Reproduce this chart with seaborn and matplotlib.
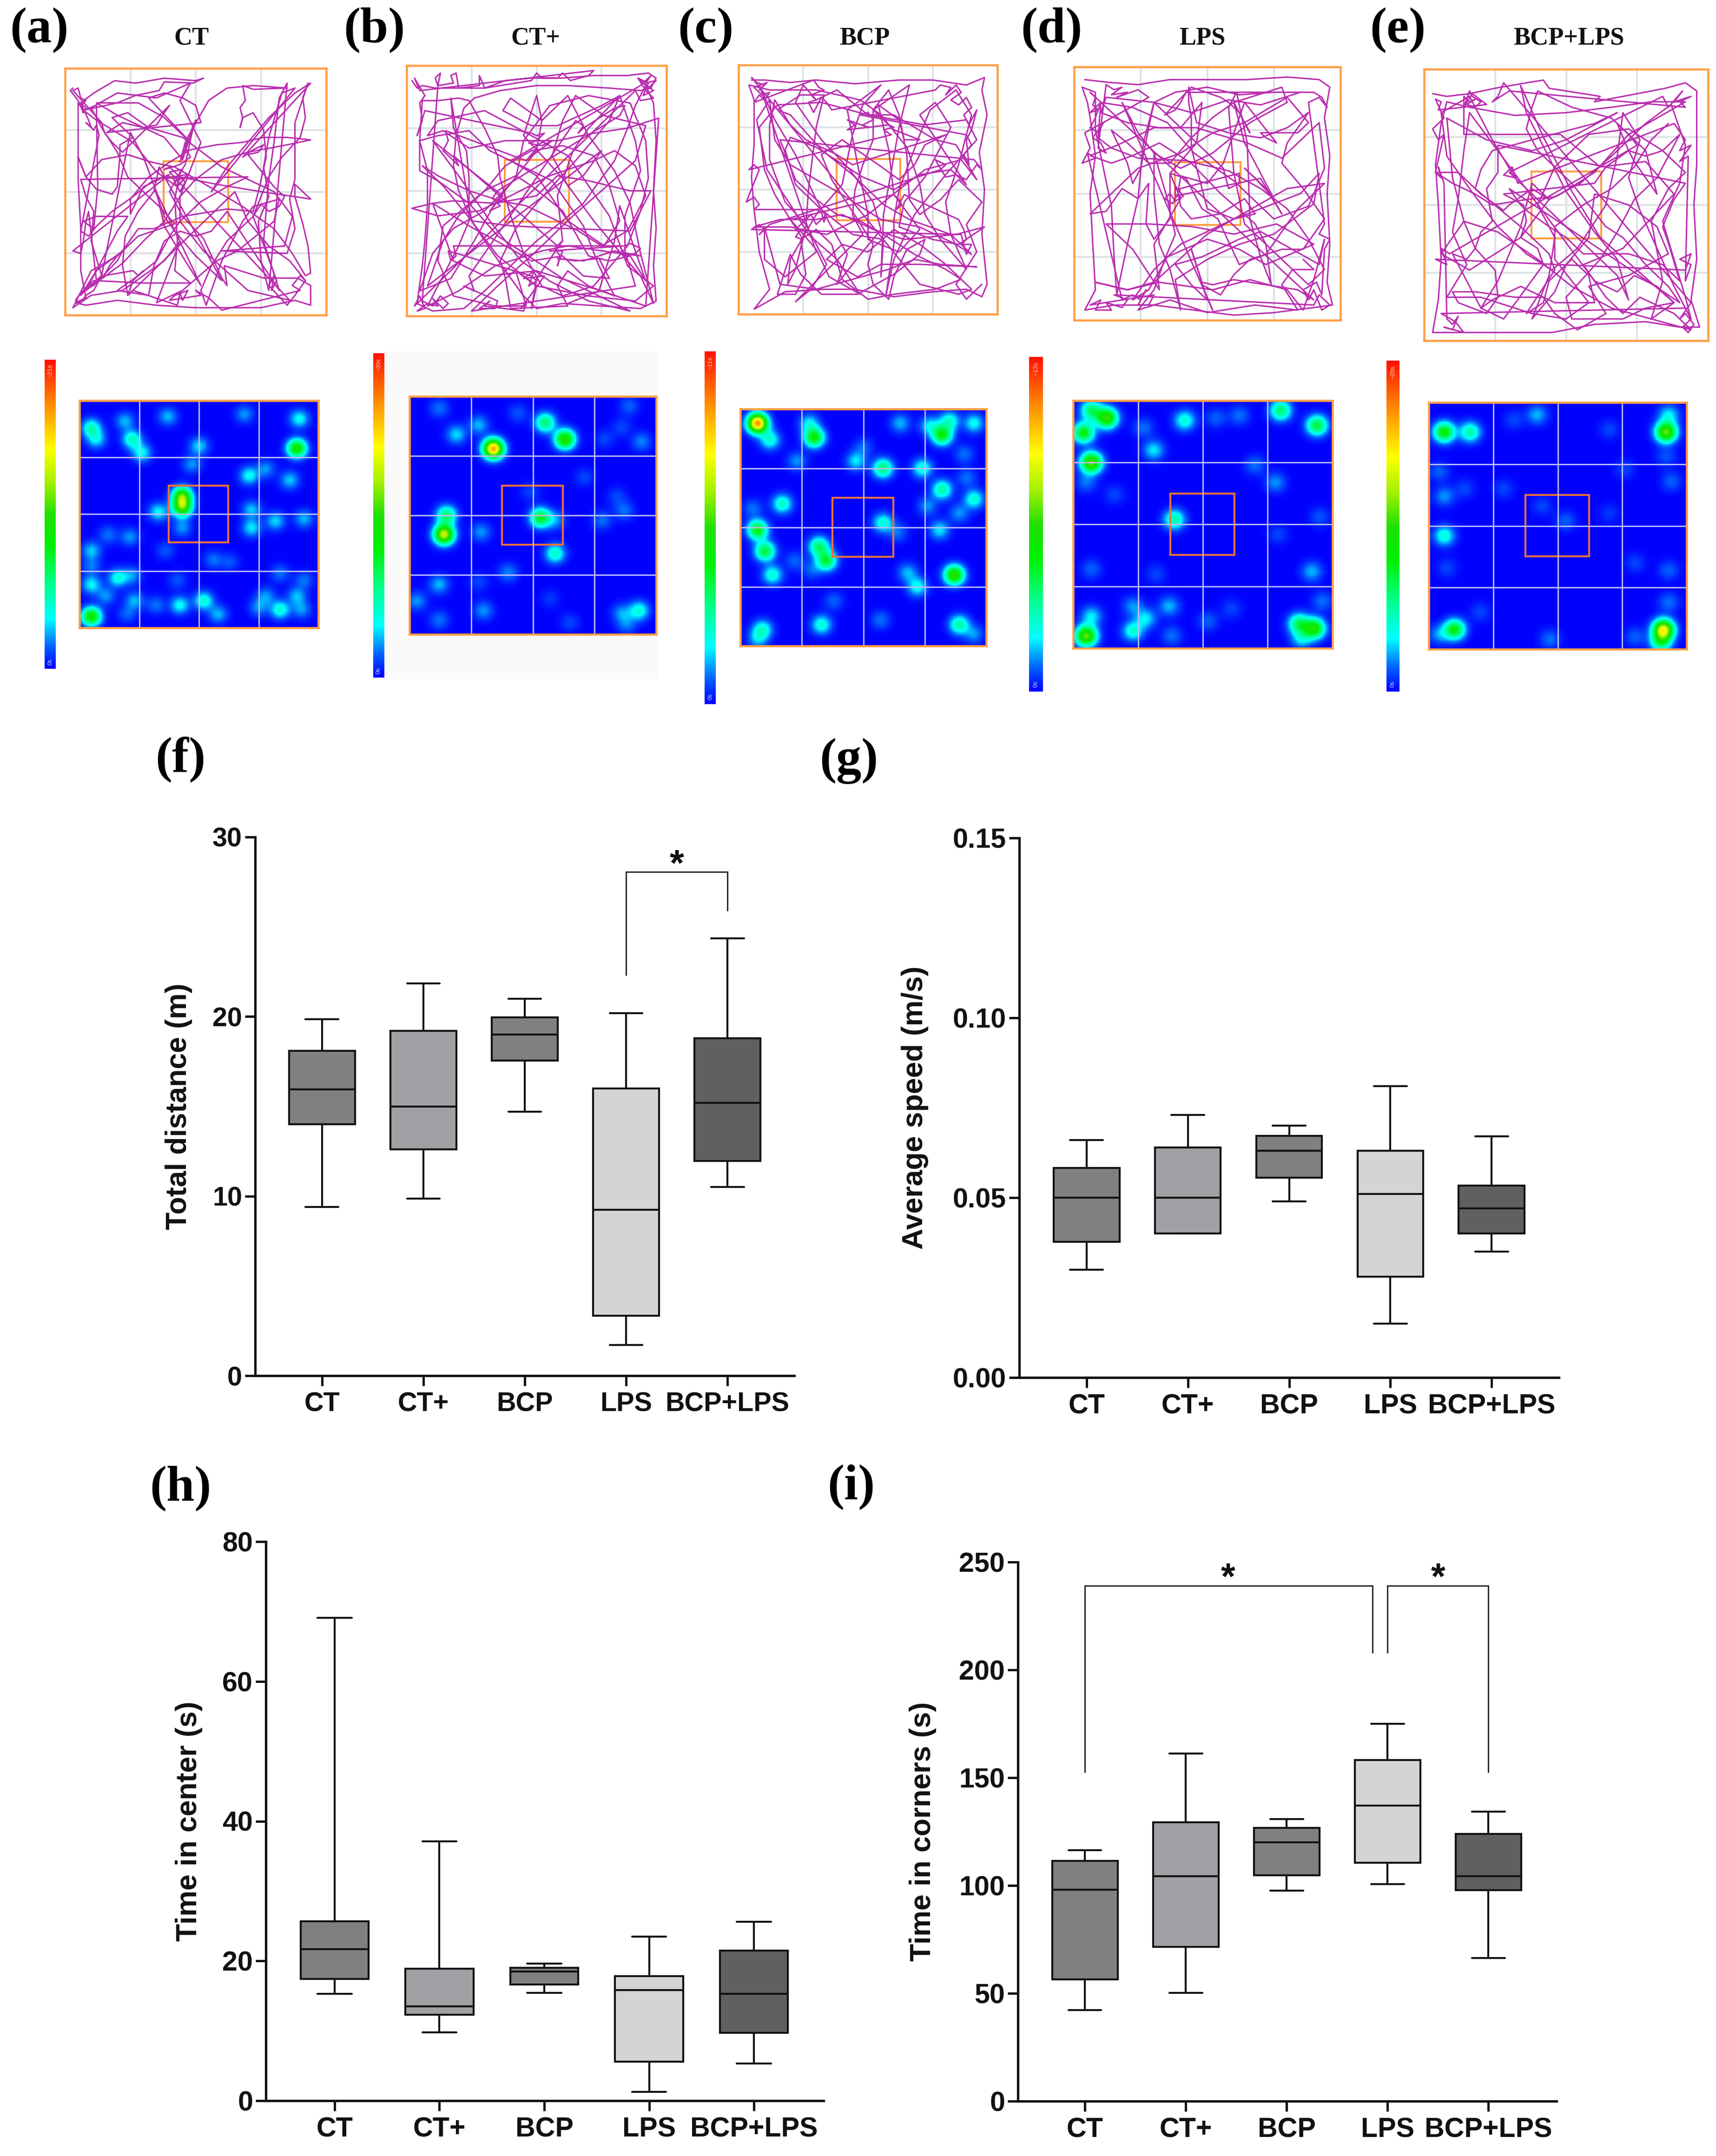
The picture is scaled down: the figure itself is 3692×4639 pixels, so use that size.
import numpy as np
import pandas as pd
import seaborn as sns
import matplotlib.pyplot as plt
from matplotlib.colors import LinearSegmentedColormap
from matplotlib.patches import Rectangle

W, H = 3692, 4639

groups = ['CT', 'CT+', 'BCP', 'LPS', 'BCP+LPS']
box_colors = ['#808080', '#a0a0a4', '#808080', '#d4d4d4', '#606060']

# each group: low whisker, q1, median, q3, high whisker
total_distance = [[9.4, 14.0, 15.95, 18.1, 19.85], [9.85, 12.6, 15.0, 19.2, 21.85], [14.7, 17.55, 19.0, 19.95, 21.0],
                  [1.7, 3.35, 9.25, 16.0, 20.2], [10.5, 11.95, 15.2, 18.8, 24.35]]
average_speed = [[0.030, 0.0377, 0.050, 0.0583, 0.066], [0.040, 0.040, 0.050, 0.064, 0.073], [0.049, 0.0556, 0.063, 0.0672, 0.070],
                 [0.015, 0.028, 0.051, 0.063, 0.081], [0.035, 0.040, 0.047, 0.0534, 0.067]]
time_center = [[15.3, 17.4, 21.7, 25.7, 69.1], [9.8, 12.3, 13.5, 18.9, 37.1], [15.4, 16.6, 18.5, 19.05, 19.6],
               [1.25, 5.6, 15.85, 17.8, 23.5], [5.35, 9.7, 15.3, 21.5, 25.6]]
time_corners = [[42.3, 56.5, 98, 111.5, 116.3], [50.3, 71.5, 104.3, 129.4, 161.2], [97.7, 104.7, 120, 126.7, 130.9],
                [100.7, 110.6, 137, 158.2, 174.9], [66.4, 97.9, 104.3, 123.9, 134.3]]

distance_bracket_x, distance_bracket_y = [3, 3, 4, 4], [22.3, 28.05, 28.05, 25.9]
corners_bracket1_x, corners_bracket1_y = [0, 0, 2.85, 2.85], [152.5, 239, 239, 208]
corners_bracket2_x, corners_bracket2_y = [3, 3, 4, 4], [208, 239, 239, 152.5]

# animal tracks, arena percent
track_a = [(3,8),(2,9),(5,13),(7,18),(6,14),(11,10),(19,5),(27,6),(38,4),(50,5),(53,4),(49,6),(38,5.5),(36,9),(27,11),(20,14),(7,17),(5,14),
 (5,32),(5,45),(6,65),(6,82),(8,93),(4,95),(8,96),(20,94),(35,96),(50,97),(60,97),(75,97),(88,94),(94,96),(94,88),(89,85),(76,85),(61,80),(62,88),(60,85),(53,69),(45,60),
 (40,50),(43,44),(46,39),(49,24),(55,13),(62,8),(72,7),(85,8),(72,8.5),(68,7),(69,13),(67,16),(68,20),(67,24),(68,20),(72,18),(76,25),(77,36),(74,50),(72,58),(62,57),(45,60),(34,65),(28,65),(22,74),(12,82),(6,92),
 (11,86),(30,87),(48,87),(42,82),(43,70),(42,53),(44,42),(43,48),(35,42),(26,30),(12,21),(7,17),(12,15),(12.5,48),(11,65),(7,62),(12,60),(24,60),(20,66),(14,78),(8,90),
 (22,79),(30,70),(38,62),(44,52),(50,45),(60,37),(70,34),(85,31),(94,29),(85,28),(76,28),(68,30),(58,31),(48,33),(40,38),(32,44),(25,53),(25,59),(30,48),(38,44),(44,44),(58,47),(75,50),(88,52),(94,53),(88,47),(88,52),(91,63),(93,72),(94,83),
 (92,84),(87,75),(80,65),(68,56),(52,46),(42,40),(33,38),(24,35),(14,37),(8,44),(5,36),(8,44),(12,49),(18,51),(20,48),(21,35),(21,31),(26,28),(18,20),(24,18),(32,24),(45,28),(60,40),(80,50),(87,60),(84,72),
 (60,74),(85,75),(88,65),(86,53),(88,45),(88,22),(93,6),(91,12),(92,20),(90,28),(83,36),(78,44),(72,60),(62,70),(56,80),(52,90),(54,96),(60,78),(68,62),(72,56),(82,53),(80,62),(66,74),(58,78),(45,90),(35,95),
 (44,70),(38,78),(30,84),(22,90),(10,92),(3,97),(10,82),(20,76),(28,68),(42,63),(36,56),(24,44),(20,34),(14,24),(10,16),(20,10),(35,12),(48,6),(44,13),(50,26),(52,30),(44,52),(44,62),(53,74),(70,90),(86,94)]
track_a2 = [(40,42),(45,41),(42,46),(46,44),(43,48),(47,43),(41,44),(44,50),(46,46),(40,40),(38,41),(44,39),(48,36),(46,32),(47,28),(50,22),(44,38),(46,30),(48,26),(50,21),
 (45,37),(38,28),(30,24),(20,19),(12,14),(20,14),(28,14),(38,20),(48,30),(32,12),(38,10),(45,12),(50,15),(52,22),(16,26),(22,22),(30,24),(35,23),(38,18),(40,15),(22,34),(18,30),(15,26),(14,22),
 (3,9),(5,8),(6,12),(8,13),(6,15),(7,18),(8,16),(6,14),(9,21),(10,24),(8,22),(11,25),(12,23),(13,27),(6,66),(9,68),(12,64),(18,58),(26,52),(33,46),(40,43),(3,74),(6,75),(7,70),(8,62),(9,58),
 (12,86),(14,84),(10,88),(13,86),(11,90),(8,92),(6,95),(4,94),(6,91),(8,89),(11,88),(20,78),(22,74),(24,72),(20,76),(17,80),(15,84),(26,82),(28,84),(30,82),(26,86),(24,92),(26,90),
 (43,96),(44,91),(45,94),(47,90),(42,92),(40,94),(52,92),(50,90),(55,93),(58,96),(60,98),(90,90),(87,88),(90,84),(92,86),(88,92),(85,96),(78,88),(80,84),(79,90),(81,86),
 (72,60),(75,55),(78,58),(82,56),(84,52),(80,48),(70,35),(74,34),(76,31),(72,33),(68,36),(94,6),(88,10),(78,20),(70,30),(62,40),(56,50),(88,8),(83,10),(78,28),(76,40),(78,52),(74,62),(75,78),(78,90),
 (85,6),(82,12),(80,30),(78,45),(76,70),(82,90),(62,58),(56,66),(50,68),(44,66),(38,70),(34,80),(32,92),(20,90),(28,84),(35,78),(40,68),(44,62),(52,54),(62,48),(70,44),
 (6,45),(8,52),(11,58),(10,70),(14,84),(25,26),(30,36),(35,50),(38,64),(46,78),(52,88),(34,48),(38,60),(42,66),(50,76),(60,86),(36,40),(34,50),(28,58),(23,68),(22,80),(24,92),(65,50),(70,62),(78,72),(86,78),(92,86)]

track_b = [(2,6),(4,9),(6,8),(11,9),(20,9),(30,9),(38,6),(48,5),(60,5),(72,4),(85,4),(93,3),(96,5),(94,9),(90,10),(78,9),(62,8),(50,8),(36,10),(26,13),(22,17),(19,28),(18,40),(20,50),(25,62),(30,70),(38,82),(45,92),(50,97),
 (60,95),(75,96),(90,97),(96,94),(95,80),(96,65),(95,50),(96,30),(95,15),(92,8),(88,16),(85,25),(80,38),(75,45),(68,55),(60,62),(50,70),(42,78),(30,90),(22,97),(10,98),(4,95),(6,80),(7,70),(8,55),(8,42),(5,30),(6,14),(12,14),(20,13),
 (24,14),(30,25),(35,36),(36,45),(40,60),(45,75),(52,88),(60,92),(72,88),(85,72),(90,58),(93,45),(92,30),(86,15),(70,12),(55,16),(45,30),(42,45),(30,58),(18,65),(10,75),(5,90),(17,85),(26,70),(34,55),(50,34),(52,22),(50,12),(45,28),
 (60,45),(72,62),(80,72),(90,84),(95,95),(90,75),(86,55),(80,42),(70,28),(62,12),(52,22),(40,13),(37,18),(48,24),(58,24),(75,16),(82,12),(70,25),(64,34),(58,52),(60,70),(50,85),(48,97),(50,88),(35,76),(25,62),(14,48),(6,40),
 (12,44),(24,50),(36,54),(46,56),(58,62),(66,66),(75,72),(85,66),(92,52),(88,40),(80,34),(72,38),(55,44),(40,52),(28,58),(12,60),(2,57),(10,55),(18,54),(34,55),(50,52),(58,44),(70,46),(86,50),(94,50),
 (86,66),(60,65),(40,64),(25,62),(17,13),(18,25),(23,34),(24,45),(24,62),(20,72),(14,84),(8,96),(20,90),(34,80),(52,74),(62,72),(82,75),(90,76),(80,74),(68,78),(58,77),(65,78),(74,77),(78,85),(68,84),(60,76),(48,78),(38,72),(24,64),(10,55),(18,78),(30,84),(50,82),(75,90),(92,96),
 (97,21),(85,25),(72,27),(58,30),(38,30),(24,33),(14,26),(8,28),(12,22),(30,18),(48,28),(62,36),(78,60),(85,80),(95,88),(88,94),(70,92),(50,88),(42,82),(46,96),(34,96),(18,92),(12,78),(14,64),(30,50),(38,40),(48,34),(60,32),(72,36),(78,48),(82,62),(76,72),(62,62),(50,44),(40,38)]
track_b2 = [(90,8),(94,4),(92,7),(96,6),(93,9),(90,6),(95,10),(91,12),(93,7),(89,5),(92,10),(95,13),(90,14),(88,10),(3,96),(5,92),(7,97),(4,98),(8,95),(12,96),(10,93),(14,97),(16,95),(13,92),(10,96),(6,94),
 (12,8),(11,5),(13,3),(12,8),(18,7),(17,4),(19,3),(20,9),(28,8),(28,4),(30,9),(48,6),(50,3),(52,5),(58,5),(60,3),(63,6),(70,4),(72,2),(5,10),(3,5),(7,12),(5,15),(6,22),(4,28),(7,18),
 (48,27),(50,28),(53,27),(50,30),(47,31),(52,32),(56,30),(47,37),(50,33),(46,38),(15,26),(16,30),(14,34),(18,38),(20,40),(18,36),
 (58,72),(60,70),(57,73),(59,76),(58,80),(60,74),(55,74),(84,72),(86,71),(90,73),(88,75),(84,76),(82,72),(18,72),(19,76),(17,78),(16,74),
 (48,84),(50,86),(47,88),(49,82),(45,85),(53,84),(44,97),(46,95),(45,98),(30,96),(32,94),(28,97),(34,97),(35,94),(22,88),(26,90),(24,84),
 (65,22),(68,24),(66,27),(68,25),(80,17),(84,16),(82,20),(35,50),(33,53),(36,56),(32,58),(37,52),
 (10,30),(20,44),(32,62),(44,78),(55,86),(70,94),(86,98),(60,85),(35,68),(24,55),(12,46),(5,42),
 (5,30),(12,28),(24,26),(32,34),(44,40),(56,46),(68,64),(74,80),(80,92),(70,88),(62,82),(58,88),(62,96),
 (40,97),(38,85),(36,78),(42,65),(50,55),(65,38),(78,22),(82,12),(88,30),(90,42),(84,60),(84,74),(88,88),
 (25,98),(35,88),(50,74),(64,60),(75,50),(88,38),(92,24),(76,20),(65,12),(60,22),(56,36),(62,48),(68,44),(75,34),
 (8,88),(14,70),(20,60),(30,50),(42,44),(48,48),(60,58),(70,76),(78,78),(86,76),(92,86),(88,74),(82,56),(80,70),(74,90),(62,95)]

track_c = [(5,6),(10,6),(20,7),(30,6),(45,7.5),(62,6),(75,6),(88,8),(95,5),(94,10),(96,20),(93,35),(95,50),(94,68),(96,88),(94,93),(88,90),(75,91),(60,93),(45,90),(33,90),(18,91),(6,98),(12,90),(8,75),(6,58),(5,45),(6,32),(6,14),(4,8),(12,10),(30,10),(47,14),(55,20),(65,33),(70,48),(72,60),(78,70),(88,82),
 (82,68),(80,55),(85,40),(90,20),(84,10),(74,18),(70,28),(62,50),(60,62),(60,72),(58,85),(57,92),(60,78),(68,60),(80,44),(92,30),(88,22),(72,24),(50,20),(32,15),(15,16),(8,25),(10,42),(14,52),(20,62),(30,74),(35,85),(47,92),(38,78),(27,68),(20,56),(11,42),(7,22),(12,14),
 (14,30),(20,40),(30,46),(40,52),(55,62),(70,65),(84,72),(90,76),(82,68),(66,62),(56,56),(44,44),(32,34),(20,20),(15,18),(24,12),(33,12),(30,25),(27,50),(26,65),(22,82),(19,88),(20,78),(30,60),(40,48),(44,28),(48,16),(55,8),(42,18),(46,40),(50,60),(50,70),
 (62,75),(70,66),(60,52),(58,34),(54,16),(62,22),(64,30),(70,30),(60,26),(52,18),(66,8),(62,25),(56,60),(55,85),(56,70),(44,68),(32,58),(22,48),(18,34),(20,29),(30,33),(48,45),(60,50),(70,44),(82,42),(88,48),
 (70,20),(76,15),(82,25),(72,45),(64,55),(62,65),(75,70),(85,72),(95,65),(84,68),(64,70),(52,66),(40,60),(30,62),(16,62),(6,65),(20,65),(34,68),(50,60),(62,50),(72,42),(86,38),(92,46),(84,32),(76,30),(60,20),(50,20),(38,10),
 (30,14),(25,8),(22,15),(32,30),(43,42),(52,55),(55,66),(44,80),(38,88),(42,76),(36,65),(30,54),(22,36),(14,22),(8,8),(30,75),(18,85),(10,78),(10,65),(16,88),(30,90),(44,86),(58,82),(68,78),(78,80),(92,81),(70,80),(55,80),(46,85),(34,78),(40,72),(50,75),(60,66),(70,72),(80,80),(90,90),(85,92),(70,88)]
track_c2 = [(5,5),(7,7),(10,8),(8,10),(11,7),(6,9),(9,12),(12,11),(10,14),(8,12),(6,15),(29,6),(31,9),(33,10),(28,12),(30,14),(27,15),(29,19),(32,13),(34,15),(36,18),
 (76,10),(78,8),(82,9),(80,12),(84,8),(86,11),(82,14),(85,16),(88,13),(90,17),(87,20),(89,24),(92,18),(90,26),(88,30),(89,40),(87,36),(90,32),(88,28),
 (47,20),(50,19),(52,22),(48,24),(50,25),(42,22),(45,24),(42,26),(58,24),(60,25),(56,26),(59,28),(4,42),(6,40),(8,42),(3,55),(6,53),(8,56),(6,58),
 (30,58),(32,59),(33,63),(34,60),(30,64),(28,60),(22,66),(24,66),(22,69),(25,70),(20,62),(60,52),(62,54),(63,56),(61,58),(64,52),(85,62),(87,66),(88,70),(86,72),(90,72),(88,76),(86,68),
 (5,66),(8,64),(10,66),(8,68),(12,64),(78,42),(80,40),(76,38),(80,45),(84,44),(88,46),(92,40),(94,42),(91,38),
 (16,30),(19,38),(22,46),(30,54),(38,60),(46,62),(56,68),(68,76),(80,82),(86,86),(76,90),(60,92),(50,94),(40,86),(36,72),(30,66),(24,70),(26,84),(22,92),(15,92),
 (20,76),(24,84),(32,92),(46,92),(60,84),(70,76),(72,70),(65,74),(60,85),(58,94),(52,88),(50,80),(52,72),(46,62),(36,46),(32,36),(40,30),(54,40),(62,46),(68,40),(72,32),(80,28),
 (44,40),(38,36),(26,30),(20,24),(14,14),(12,24),(12,38),(18,55),(26,64),(34,80),(28,90),(22,95),
 (48,68),(44,60),(45,50),(48,40),(52,30),(52,18),(58,10),(62,20),(65,36),(66,54),(70,60),(78,54),(85,46),(94,55),(88,64),(92,75),(84,88),(88,94),(94,88)]

track_d = [(4,5),(12,6),(24,7),(36,5),(50,5),(65,5),(80,4),(92,5),(96,8),(94,20),(96,35),(95,50),(96,70),(95,85),(97,94),(90,95),(75,97),(60,98),(45,96),(30,94),(15,94),(4,96),(8,88),(7,70),(6,50),(8,35),(6,20),(5,14),(3,8),(8,10),(8,25),(11,40),(14,55),(15,75),(16,90),(20,70),(24,52),(26,30),(30,14),(38,10),(50,8),(62,11),(75,10),(85,10),
 (70,15),(58,13),(44,18),(30,14),(12,12),(10,18),(20,22),(32,24),(46,24),(55,27),(65,30),(78,36),(86,28),(92,22),(94,40),(88,55),(75,60),(60,45),(45,34),(35,22),(22,16),(10,14),(9,28),(14,32),(24,36),(42,37),(58,41),(70,48),(80,56),(88,68),(94,80),
 (88,86),(76,74),(64,62),(60,42),(58,16),(61,10),(65,30),(66,60),(70,75),(74,86),(72,70),(68,62),(55,50),(44,38),(32,30),(22,35),(14,38),(6,35),(16,31),(30,24),(40,24),(48,14),(46,30),(36,42),(36,60),(30,68),(27,62),(28,46),
 (24,52),(18,48),(12,57),(6,58),(14,50),(24,40),(40,34),(52,26),(64,22),(80,12),(88,22),(84,26),(70,26),(72,28),(76,30),(64,14),(56,38),(50,46),(40,43),(39,50),(40,55),(44,60),(55,58),(64,52),(68,58),(60,60),(40,70),(30,80),(22,92),(28,88),(35,75),(50,68),(62,72),(72,78),(90,70),
 (76,62),(60,66),(44,63),(28,62),(12,62),(22,72),(32,88),(30,70),(40,52),(36,42),(42,44),(48,56),(54,60),(62,78),(72,74),(84,56),(94,46),(80,48),(65,57),(50,66),(30,85),(20,88),(8,85),(20,88),(32,85),(52,88),(66,84),(80,88),(86,96),(90,84),(94,68),(92,78),(70,65),(62,68),(48,75),(38,78),(44,86),(50,92),(44,72),(48,85),(52,86),(60,84),(72,86),(84,88),(90,92)]
track_d2 = [(6,10),(8,12),(7,15),(9,17),(6,18),(10,14),(8,20),(6,24),(9,26),(11,22),(7,28),(10,30),(12,34),(9,32),(12,7),(15,9),(18,8),(14,11),(20,10),(16,12),(24,9),(28,12),
 (4,26),(6,32),(3,38),(8,36),(5,34),(18,92),(22,90),(25,92),(27,88),(24,94),(28,94),(30,90),(6,94),(10,92),(8,96),(14,96),(12,93),(18,95),(20,92),(15,90),
 (90,94),(92,90),(94,92),(96,94),(93,96),(90,88),(88,92),(86,88),(91,85),(93,90),(94,72),(96,68),(92,66),(94,62),(88,14),(92,12),(95,16),(93,12),(90,10),
 (42,10),(40,14),(38,17),(34,19),(44,8),(55,12),(58,14),(62,18),(66,26),(60,14),(64,30),(70,42),(75,52),(68,44),(66,42),(70,46),(64,40),(72,48),(78,58),(70,44),
 (38,51),(38,47),(41,51),(38,53),(36,50),(34,52),(37,54),(40,48),(62,42),(62,46),(58,48),(56,40),
 (30,14),(28,24),(25,40),(22,46),(20,38),(14,25),(20,30),(28,38),(36,38),(44,28),(52,20),(60,14),(78,8),(80,14),(66,22),(52,34),(40,40),
 (30,34),(30,50),(32,70),(36,80),(40,96),(38,84),(50,76),(62,70),(75,66),(90,54),(92,42),(85,50),(70,56),(60,60),(50,56),
 (44,32),(44,20),(43,14),(43,8),(46,22),(58,26),(70,28),(80,24),(88,18),(80,30),(78,38),(86,48),(94,60),(86,72),(78,72),(66,76),(60,82),(55,90),(48,86),(52,96),
 (18,14),(24,26),(30,34),(35,52),(38,66),(34,76),(30,88),(24,96),(36,92),(50,97),(68,94),(84,96),(78,86),(82,80),(90,80),(86,76)]

track_e = [(3,9),(8,10),(16,9),(25,7),(36,5),(42,4),(44,7),(50,8),(62,10),(60,12),(70,10),(85,7),(92,5),(96,8),(96,20),(96,35),(95,50),(96,70),(94,85),(97,95),(90,95),(78,93),(60,94),(45,97),(30,97),(15,97),(3,97),(5,85),(6,70),(5,50),(4,35),(6,20),(8,12),(16,14),(32,17),(50,16),(66,14),(80,12),(92,12),
 (72,24),(60,38),(48,46),(44,48),(38,44),(30,50),(28,52),(20,46),(12,38),(4,38),(10,42),(18,46),(24,50),(36,48),(46,47),(55,42),(66,32),(78,20),(87,13),(92,28),(90,42),(84,56),(88,70),(92,84),(94,92),(88,80),(82,66),(76,52),(72,40),(76,26),(70,16),
 (68,32),(64,50),(54,66),(45,74),(36,68),(26,58),(16,44),(8,32),(6,16),(16,10),(24,26),(32,40),(42,50),(56,64),(68,76),(72,85),(68,70),(60,60),(50,45),(36,16),(34,6),(42,25),(52,45),(62,62),(76,75),(88,86),(80,92),(66,88),(52,80),(40,70),(26,60),(14,56),(6,68),
 (16,74),(22,70),(34,62),(44,48),(38,42),(34,58),(26,78),(20,88),(24,85),(34,80),(46,86),(60,86),(58,76),(52,70),(44,78),(42,86),(36,90),(46,74),(44,68),(38,62),(34,58),(18,44),(20,37),(24,30),(38,26),(60,20),(68,16),(50,26),(38,30),(22,26),(8,18),
 (10,40),(14,56),(18,66),(25,74),(26,84),(22,90),(12,86),(10,82),(18,82),(32,84),(42,84),(46,90),(54,96),(64,90),(58,80),(72,76),(86,68),(82,58),(72,50),(60,46),(58,62),(50,72),(46,82),(38,92),(44,76),(46,62),(40,50),(46,36),(58,24),(72,22),(84,30),(92,38),(86,44),(80,56),(84,78),(80,92),(94,96),(88,90),(76,84),(70,90),(64,84),(56,72),(70,66),(88,46),(78,34),(62,36),(48,24),(32,24),(14,24)]
track_e2 = [(14,10),(16,12),(18,11),(15,13),(18,14),(20,12),(17,10),(16,8),(14,14),(17,9),(22,13),(5,15),(6,12),(4,11),(7,18),(3,22),(5,26),(7,24),(4,38),(6,40),(5,36),(7,42),
 (8,92),(10,94),(12,91),(10,96),(7,95),(14,97),(11,93),(6,90),(92,88),(94,92),(91,95),(93,97),(95,94),(92,90),(90,92),(94,86),(28,5),(26,10),(24,12),(30,8),(92,14),(90,12),(94,10),(88,12),(91,8),(86,14),(84,10),
 (30,38),(32,40),(28,39),(31,36),(33,42),(88,20),(92,26),(90,30),(94,28),(90,34),(93,32),(92,78),(94,72),(90,70),(94,68),(92,74),(4,70),(8,72),(6,66),(9,68),
 (75,28),(72,24),(68,20),(72,30),(74,34),(78,40),(82,46),(78,30),(66,18),(52,14),(40,8),(38,14),(36,22),(40,30),(52,42),(58,50),(64,58),(70,62),(78,72),(86,80),(90,86),
 (30,44),(34,50),(36,52),(44,58),(50,62),(56,68),(62,68),(72,68),(84,72),(90,78),(86,64),(84,58),(88,48),(92,42),
 (26,28),(26,38),(22,44),(24,56),(20,60),(18,66),(15,70),(10,68),(14,76),(20,88),(28,92),(35,82),(42,72),(40,66),(34,62),(36,56),(35,50),(28,46),
 (60,42),(64,36),(72,30),(78,32),(84,30),(90,24),(82,40),(74,48),(68,60),(62,70),(50,84),(52,92),(62,92),(70,92),(78,88),(88,86),(82,80),(74,76),(68,82),(60,78),
 (16,16),(14,30),(12,48),(10,60),(15,72),(8,84),(20,84),(38,90),(50,92),(58,86),(46,70),(46,58),(56,50),(66,44),(74,36),(80,26),(86,20)]

# heat spots: x %, y %, strength
heat_a = [(5,12,.22),(7,17,.15),(19,9,.12),(22,17,.22),(26,23,.17),(37,7,.12),(50,20,.14),(69,6,.1),(92,8,.17),(91,21,.46),(47,28,.1),(71,33,.17),(78,30,.1),(88,35,.13),(43,42,.5),(43,47,.5),(43,56,.1),(33,49,.16),(12,59,.08),(21,60,.1),(5,66,.13),(5,73,.08),(72,48,.13),(72,56,.15),(82,53,.14),(94,52,.12),(36,66,.06),(56,70,.08),(63,71,.06),(5,81,.16),(16,78,.18),(22,77,.1),(11,86,.1),(23,88,.12),(32,90,.08),(5,95,.45),(20,94,.07),(42,90,.17),(41,79,.06),(52,88,.2),(58,94,.12),(75,91,.1),(78,86,.1),(84,92,.2),(91,86,.12),(93,92,.1),(84,76,.08),(94,79,.08)]
heat_b = [(12,5,.08),(19,16,.14),(28,12,.12),(34,22,.82),(44,7,.06),(55,11,.3),(63,18,.5),(89,4,.07),(94,19,.09),(86,13,.05),(79,18,.05),(15,50,.3),(14,58,.65),(29,57,.1),(53,51,.38),(59,52,.1),(49,40,.05),(59,66,.22),(78,52,.08),(87,48,.08),(84,42,.05),(40,74,.09),(12,79,.12),(3,86,.1),(12,94,.08),(28,78,.05),(30,90,.1),(57,85,.04),(65,95,.05),(93,90,.2),(86,91,.1),(88,96,.08),(71,34,.05)]
heat_c = [(7,6,.85),(12,13,.2),(30,12,.42),(28,6,.15),(23,22,.1),(47,22,.15),(65,6,.12),(58,25,.3),(74,25,.2),(82,11,.4),(85,5,.2),(95,6,.17),(77,7,.15),(91,19,.08),(82,34,.25),(95,38,.2),(92,29,.08),(89,44,.1),(76,41,.1),(17,40,.22),(5,42,.08),(7,51,.4),(81,51,.15),(58,48,.2),(64,52,.08),(10,60,.35),(32,58,.3),(35,64,.35),(22,64,.07),(13,70,.2),(29,68,.07),(87,70,.5),(68,69,.12),(72,75,.18),(9,93,.2),(7,97,.12),(38,81,.07),(33,91,.2),(57,89,.08),(89,91,.25),(95,95,.1),(50,16,.07)]
heat_d = [(7,4,.3),(13,7,.5),(4,13,.4),(7,25,.55),(27,11,.08),(43,8,.2),(55,7,.07),(64,6,.08),(80,4,.3),(94,10,.35),(31,20,.15),(70,26,.08),(78,33,.1),(5,33,.08),(16,38,.05),(39,48,.25),(95,47,.06),(79,54,.05),(7,68,.07),(92,69,.12),(32,70,.05),(5,95,.55),(7,87,.15),(23,93,.2),(28,88,.15),(37,83,.12),(23,83,.1),(38,95,.08),(52,89,.07),(61,84,.05),(87,90,.3),(93,92,.45),(88,96,.15),(96,81,.08)]
heat_e = [(6,12,.42),(16,12,.25),(42,5,.12),(33,7,.05),(92,12,.55),(93,5,.15),(70,11,.05),(92,22,.06),(6,54,.2),(6,38,.1),(4,28,.07),(14,35,.05),(29,35,.05),(94,32,.07),(76,27,.05),(53,48,.07),(44,42,.05),(70,45,.04),(7,67,.05),(80,65,.05),(93,68,.07),(10,92,.4),(4,94,.1),(91,92,.68),(90,97,.3),(47,96,.08),(80,95,.07),(93,81,.08),(20,85,.05)]

sns.set_theme(style='ticks')
plt.rcParams['font.family'] = ['Liberation Sans', 'DejaVu Sans']

heat_cmap = LinearSegmentedColormap.from_list('heat', [(0, '#0000ff'), (.07, '#0060ff'), (.16, '#00ffff'), (.27, '#00ff90'), (.4, '#00f000'), (.5, '#20e000'), (.6, '#a0f000'), (.71, '#ffff00'), (.85, '#ff9000'), (1, '#ff1000')])
ORANGE = '#ff9f45'
TRACK = '#b318a6'


def px_axes(fig, x0, y0, x1, y1):
    return fig.add_axes([x0 / W, 1 - y1 / H, (x1 - x0) / W, (y1 - y0) / H])


def px_text(fig, x, y, s, **kw):
    fig.text(x / W, 1 - y / H, s, ha='center', va='center', **kw)


def draw_track(fig, box, path):
    ax = px_axes(fig, *box)
    for v in (25, 50, 75):
        ax.axvline(v, color='#dde3e6', lw=1.0, zorder=0)
        ax.axhline(v, color='#dde3e6', lw=1.0, zorder=0)
    df = pd.DataFrame(path, columns=['x', 'y'])
    sns.lineplot(data=df, x='x', y='y', sort=False, estimator=None, color=TRACK, lw=0.75, alpha=0.9, ax=ax, zorder=2)
    ax.add_patch(Rectangle((37.8, 37.7), 24.6, 24.7, fill=False, ec=ORANGE, lw=1.0, zorder=1))
    ax.set_xlim(0, 100)
    ax.set_ylim(100, 0)
    ax.set(xticks=[], yticks=[], xlabel='', ylabel='')
    for s in ax.spines.values():
        s.set_visible(True)
        s.set_color(ORANGE)
        s.set_linewidth(1.1)


def draw_heat(fig, box, spots, sigma):
    ax = px_axes(fig, *box)
    n = 300
    gx, gy = np.meshgrid((np.arange(n) + .5) / n * 100, (np.arange(n) + .5) / n * 100)
    grid = np.zeros((n, n))
    for sx, sy, amp in spots:
        grid += amp * np.exp(-((gx - sx) ** 2 + (gy - sy) ** 2) / (2 * sigma ** 2))
    sns.heatmap(grid, vmin=0, vmax=1, cmap=heat_cmap, cbar=False, xticklabels=False, yticklabels=False, ax=ax)
    k = n / 100
    for v in (25, 50, 75):
        ax.axvline(v * k, color='#b9bdfb', lw=0.7)
        ax.axhline(v * k, color='#b9bdfb', lw=0.7)
    ax.add_patch(Rectangle((37.4 * k, 37.5 * k), 24.8 * k, 24.8 * k, fill=False, ec='#e8703c', lw=1.0))
    for s in ax.spines.values():
        s.set_visible(True)
        s.set_color(ORANGE)
        s.set_linewidth(1.1)


def draw_colorbar(fig, box, top_label):
    ax = px_axes(fig, *box)
    ramp = np.linspace(1, 0, 256).reshape(-1, 1)
    sns.heatmap(ramp, vmin=0, vmax=1, cmap=heat_cmap, cbar=False, xticklabels=False, yticklabels=False, ax=ax)
    ax.text(.5, .985, top_label, transform=ax.transAxes, rotation=90, ha='center', va='top', color='#ffd0c0', fontsize=3.2)
    ax.text(.5, .012, '0s', transform=ax.transAxes, rotation=90, ha='center', va='bottom', color='#c0d0ff', fontsize=3.2)


def draw_box(fig, box, values, ylabel, ylim, yticks, ytick_labels, xlim, label_x, fontsize=14.2):
    ax = px_axes(fig, *box)
    df = pd.DataFrame({'group': [g for g in groups for _ in range(5)], 'value': np.ravel(values)})
    sns.boxplot(data=df, x='group', y='value', hue='group', order=groups, hue_order=groups, palette=box_colors, saturation=1,
                whis=(0, 100), width=0.65, linecolor='#111111', linewidth=1.0, legend=False, ax=ax)
    ax.set_xlim(*xlim)
    ax.set_ylim(*ylim)
    ax.set_yticks(yticks, ytick_labels)
    sns.despine(ax=ax)
    for side in ('left', 'bottom'):
        ax.spines[side].set_linewidth(1.25)
        ax.spines[side].set_color('#111111')
    ax.tick_params(axis='y', length=5.2, width=1.2, pad=1.5, labelsize=fontsize, color='#111111')
    ax.tick_params(axis='x', length=5.2, width=1.2, pad=3, labelsize=fontsize, color='#111111')
    for t in ax.get_xticklabels() + ax.get_yticklabels():
        t.set_fontweight('bold')
        t.set_color('#111111')
    ax.set_xlabel('')
    ax.set_ylabel('')
    px_text(fig, label_x, (box[1] + box[3]) / 2, ylabel, rotation=90, fontsize=15, fontweight='bold', color='#111111')
    return ax


def bracket(ax, xs, ys, star_x, star_y):
    ax.plot(xs, ys, color='#222222', lw=0.7, solid_joinstyle='miter')
    ax.text(star_x, star_y, '*', ha='center', va='center', fontsize=19, fontweight='bold', color='#111111')


fig = plt.figure(figsize=(W / 300, H / 300), dpi=300, facecolor='white')

# top row: tracks, heat maps, colour strips
fig.add_artist(Rectangle((827 / W, 1 - 1461 / H), 587 / W, 705 / H, transform=fig.transFigure, fc='#fafafa', ec='none', zorder=-5))

track_boxes = [(140, 147, 702, 678), (875, 141, 1434, 680), (1589, 140, 2146, 676), (2311, 144, 2884, 689), (3064, 149, 3675, 733)]
tracks = [track_a + track_a2, track_b + track_b2, track_c + track_c2, track_d + track_d2, track_e + track_e2]
heat_boxes = [(171, 862, 685, 1351), (881, 853, 1412, 1365), (1593, 880, 2122, 1390), (2309, 862, 2867, 1395), (3074, 866, 3629, 1397)]
heats = [heat_a, heat_b, heat_c, heat_d, heat_e]
bar_boxes = [(96, 774, 120, 1439), (803, 760, 827, 1458), (1516, 756, 1540, 1515), (2214, 768, 2244, 1488), (2983, 776, 3011, 1488)]
bar_tops = ['~21s', '~30s', '~11s', '~13s', '~20s']
for tb, tr, hb, ht, bb, bt in zip(track_boxes, tracks, heat_boxes, heats, bar_boxes, bar_tops):
    draw_track(fig, tb, tr)
    draw_heat(fig, hb, ht, 2.8)
    draw_colorbar(fig, bb, bt)

serif = ['Liberation Serif', 'DejaVu Serif']
for s, x, y in [('(a)', 84, 65), ('(b)', 805, 65), ('(c)', 1518, 65), ('(d)', 2262, 65), ('(e)', 3007, 65),
                ('(f)', 388, 1634), ('(g)', 1826, 1637), ('(h)', 388, 3203), ('(i)', 1831, 3200)]:
    px_text(fig, x, y, s, family=serif, fontsize=26, fontweight='bold', color='black')
for s, x in zip(groups, [412, 1152, 1860, 2587, 3375]):
    px_text(fig, x, 82, s, family=serif, fontsize=13, fontweight='bold', color='#111111')

# box panels
ax_f = draw_box(fig, (549, 1801, 1709, 2960), total_distance, 'Total distance (m)', (0, 30), [0, 10, 20, 30], ['0', '10', '20', '30'], (-0.66, 4.66), 384, fontsize=13.8)
bracket(ax_f, distance_bracket_x, distance_bracket_y, 3.5, 28.4)

ax_g = draw_box(fig, (2193, 1803, 3354, 2964), average_speed, 'Average speed (m/s)', (0, 0.15), [0, 0.05, 0.10, 0.15], ['0.00', '0.05', '0.10', '0.15'], (-0.665, 4.665), 1968)

ax_h = draw_box(fig, (572, 3317, 1772, 4520), time_center, 'Time in center (s)', (0, 80), [0, 20, 40, 60, 80], ['0', '20', '40', '60', '80'], (-0.656, 4.665), 406)

ax_i = draw_box(fig, (2190, 3361, 3349, 4521), time_corners, 'Time in corners (s)', (0, 250), [0, 50, 100, 150, 200, 250], ['0', '50', '100', '150', '200', '250'], (-0.664, 4.675), 1985)
bracket(ax_i, corners_bracket1_x, corners_bracket1_y, 1.42, 242)
bracket(ax_i, corners_bracket2_x, corners_bracket2_y, 3.5, 242)

fig.savefig('out.png', dpi=300, facecolor='white')
